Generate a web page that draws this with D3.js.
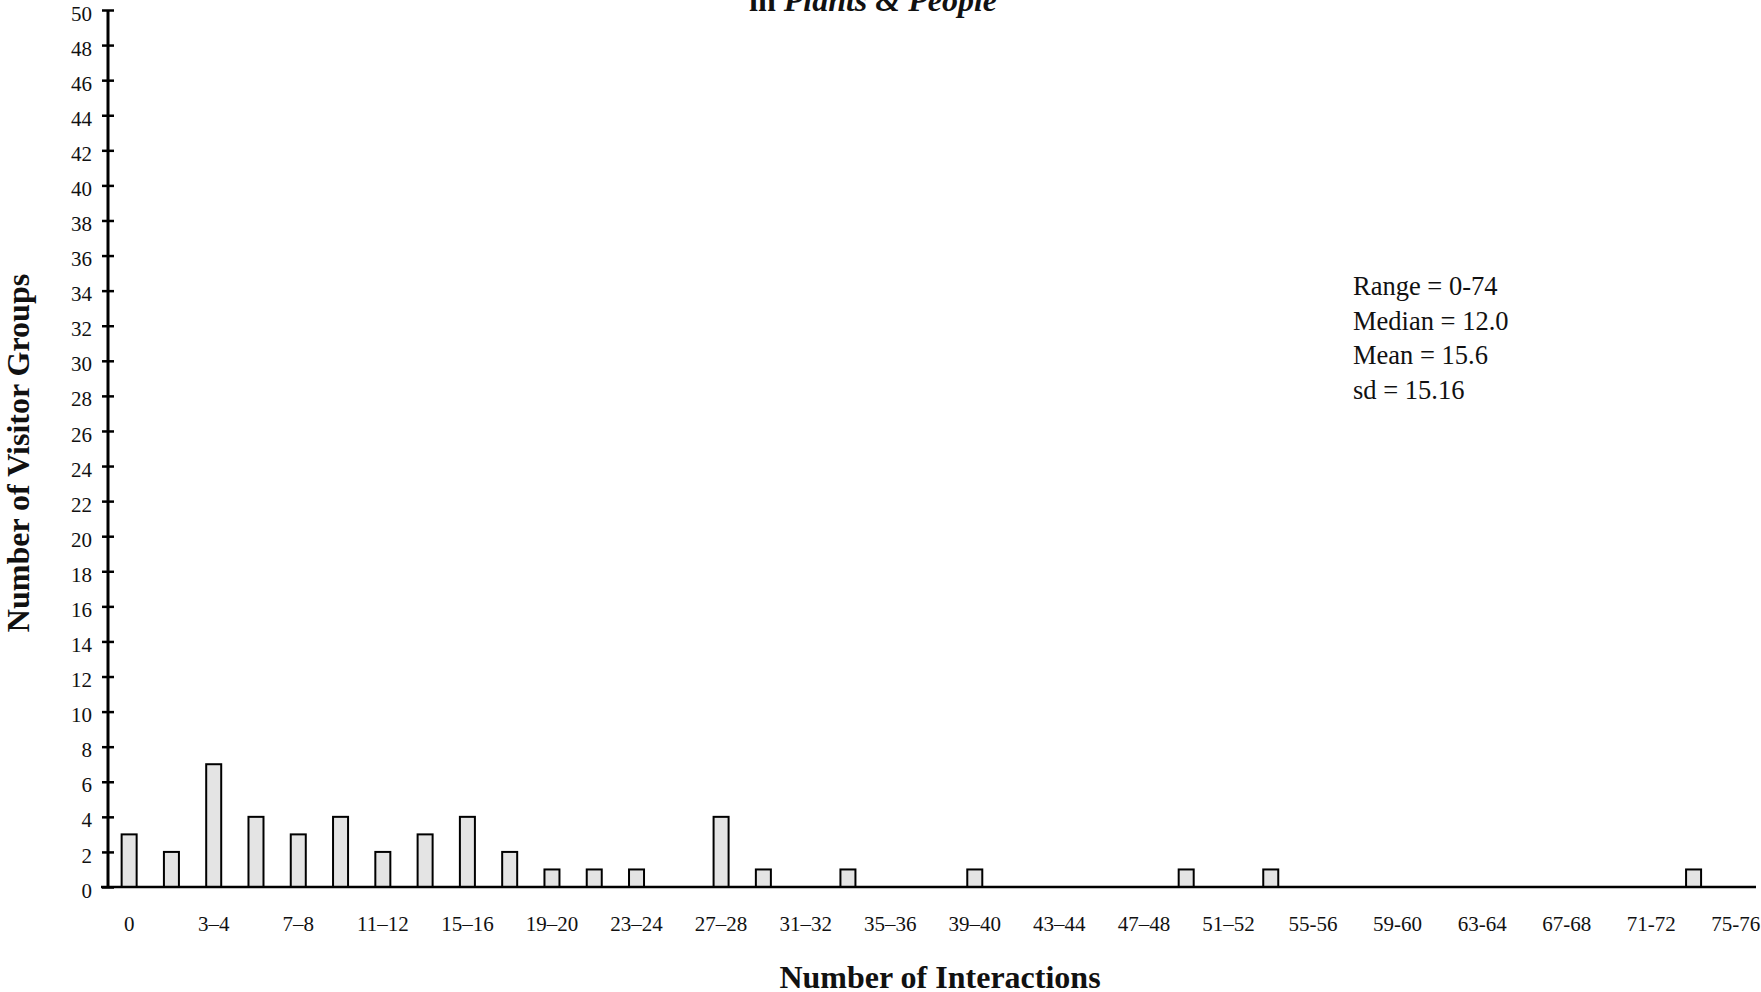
<!DOCTYPE html>
<html>
<head>
<meta charset="utf-8">
<script src="https://cdn.jsdelivr.net/npm/d3@7"></script>
<style>
  body { margin: 0; background: #fff; }
  svg text { font-family: "Liberation Serif", "Times New Roman", serif; fill: #111; }
</style>
</head>
<body>
<div class="canva"></div>
<script>
// interaction bins (every other one gets a label on the axis)
var bins = ["0", "1–2", "3–4", "5–6", "7–8", "9–10", "11–12", "13–14", "15–16", "17–18",
            "19–20", "21–22", "23–24", "25–26", "27–28", "29–30", "31–32", "33–34", "35–36", "37–38",
            "39–40", "41–42", "43–44", "45–46", "47–48", "49–50", "51–52", "53-54", "55-56", "57-58",
            "59-60", "61-62", "63-64", "65-66", "67-68", "69-70", "71-72", "73-74", "75-76"];

// number of visitor groups per bin
var groups = [3, 2, 7, 4, 3, 4, 2, 3, 4, 2,
              1, 1, 1, 0, 4, 1, 0, 1, 0, 0,
              1, 0, 0, 0, 0, 1, 0, 1, 0, 0,
              0, 0, 0, 0, 0, 0, 0, 1, 0];

var yTicks = [0, 2, 4, 6, 8, 10, 12, 14, 16, 18, 20, 22, 24, 26, 28, 30, 32, 34, 36, 38, 40,
              42, 44, 46, 48, 50];

var statLines = ["Range = 0-74", "Median = 12.0", "Mean = 15.6", "sd = 15.16"];

const width = 1761, height = 992;
const svg = d3.select(".canva").append("svg")
    .attr("width", width)
    .attr("height", height);

const x = d3.scaleBand()
    .domain(bins)
    .range([108, 1757])
    .paddingInner(0.645)
    .paddingOuter(0.3225);

const y = d3.scaleLinear()
    .domain([0, 50])
    .range([887, 10]);

// bars
svg.append("g")
    .selectAll("rect")
    .data(groups.map((v, i) => ({bin: bins[i], v: v})).filter(d => d.v > 0))
    .enter()
    .append("rect")
    .attr("x", d => x(d.bin))
    .attr("y", d => y(d.v))
    .attr("width", x.bandwidth())
    .attr("height", d => y(0) - y(d.v))
    .attr("fill", "#e4e4e4")
    .attr("stroke", "#000")
    .attr("stroke-width", 2);

// x axis - baseline only, labels on every other bin
const xAxis = d3.axisBottom(x)
    .tickValues(bins.filter((b, i) => i % 2 == 0))
    .tickSize(0)
    .tickPadding(29);

const gx = svg.append("g")
    .attr("transform", "translate(0," + y(0) + ")")
    .call(xAxis);
gx.select(".domain")
    .attr("d", "M101,0H1756")
    .attr("stroke", "#000")
    .attr("stroke-width", 2.5);
gx.selectAll("text")
    .attr("font-size", 21)
    .attr("font-family", "Liberation Serif");

// y axis with ticks crossing the line
const yAxis = d3.axisLeft(y)
    .tickValues(yTicks)
    .tickSize(6)
    .tickPadding(10);

const gy = svg.append("g")
    .attr("transform", "translate(108,0)")
    .call(yAxis);
gy.select(".domain")
    .attr("d", "M0," + y(50) + "V" + y(0))
    .attr("stroke", "#000")
    .attr("stroke-width", 3);
gy.selectAll(".tick line")
    .attr("x1", 6)
    .attr("stroke", "#000")
    .attr("stroke-width", 2.5);
gy.selectAll("text")
    .attr("font-size", 21)
    .attr("dy", "0.48em")
    .attr("font-family", "Liberation Serif");

// titles
const title = svg.append("text")
    .attr("x", 873)
    .attr("y", 11)
    .attr("text-anchor", "middle")
    .attr("font-size", 32)
    .attr("font-weight", "bold");
title.append("tspan").text("in ");
title.append("tspan").attr("font-style", "italic").text("Plants & People");

svg.append("text")
    .attr("x", 940)
    .attr("y", 988)
    .attr("text-anchor", "middle")
    .attr("font-size", 32)
    .attr("font-weight", "bold")
    .text("Number of Interactions");

svg.append("text")
    .attr("transform", "translate(29,453) rotate(-90)")
    .attr("text-anchor", "middle")
    .attr("font-size", 32)
    .attr("font-weight", "bold")
    .text("Number of Visitor Groups");

// summary stats
svg.append("g")
    .selectAll("text")
    .data(statLines)
    .enter()
    .append("text")
    .attr("x", 1353)
    .attr("y", (d, i) => 295 + i * 34.5)
    .attr("font-size", 26.5)
    .text(d => d);
</script>
</body>
</html>
